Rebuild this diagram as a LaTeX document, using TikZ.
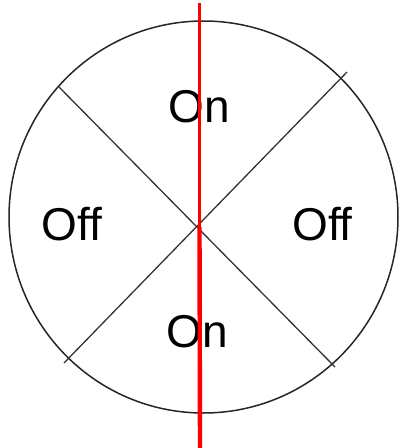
\documentclass[tikz,border=0pt]{standalone}
\usepackage{fontspec}
\setmainfont{Liberation Sans}
\usepackage{tikz}
\usetikzlibrary{positioning,calc}
\definecolor{axisred}{RGB}{255,0,0}

\begin{document}
\begin{tikzpicture}[x=1pt,y=-1pt,
  lbl/.style={inner sep=0pt,text=black,font=\fontsize{46}{50}\selectfont},
  rim/.style={draw=black!85,line width=1.5pt},
  cut/.style={draw=black!80,line width=1.3pt},
  thinaxis/.style={draw=axisred,line width=2.1pt},
  thickaxis/.style={draw=axisred,line width=4.4pt}]
  \useasboundingbox (0,0) rectangle (401,448);
  % dial
  \draw[rim] (203.5,217) ellipse [x radius=194.5,y radius=196];
  \coordinate (ul) at (59,87);
  \coordinate (lr) at (335,367);
  \coordinate (ur) at (347,72);
  \coordinate (ll) at (64,363);
  \draw[cut] (ul) -- (lr);
  \draw[cut] (ur) -- (ll);
  % labels
  \node[lbl] (ontop) at (199,106.5) {On};
  \node[lbl] (offleft) at (72,224) {Off};
  \node[lbl] (offright) at (322.5,224) {Off};
  \node[lbl] (onbottom) at (197.5,332) {On};
  % red axis
  \coordinate (axtop) at (199.5,3);
  \coordinate (hub) at (199.5,227);
  \coordinate (axbot) at (200,448);
  \draw[thinaxis] (axtop) -- (hub);
  \draw[thickaxis] (hub) -- (axbot);
\end{tikzpicture}
\end{document}
